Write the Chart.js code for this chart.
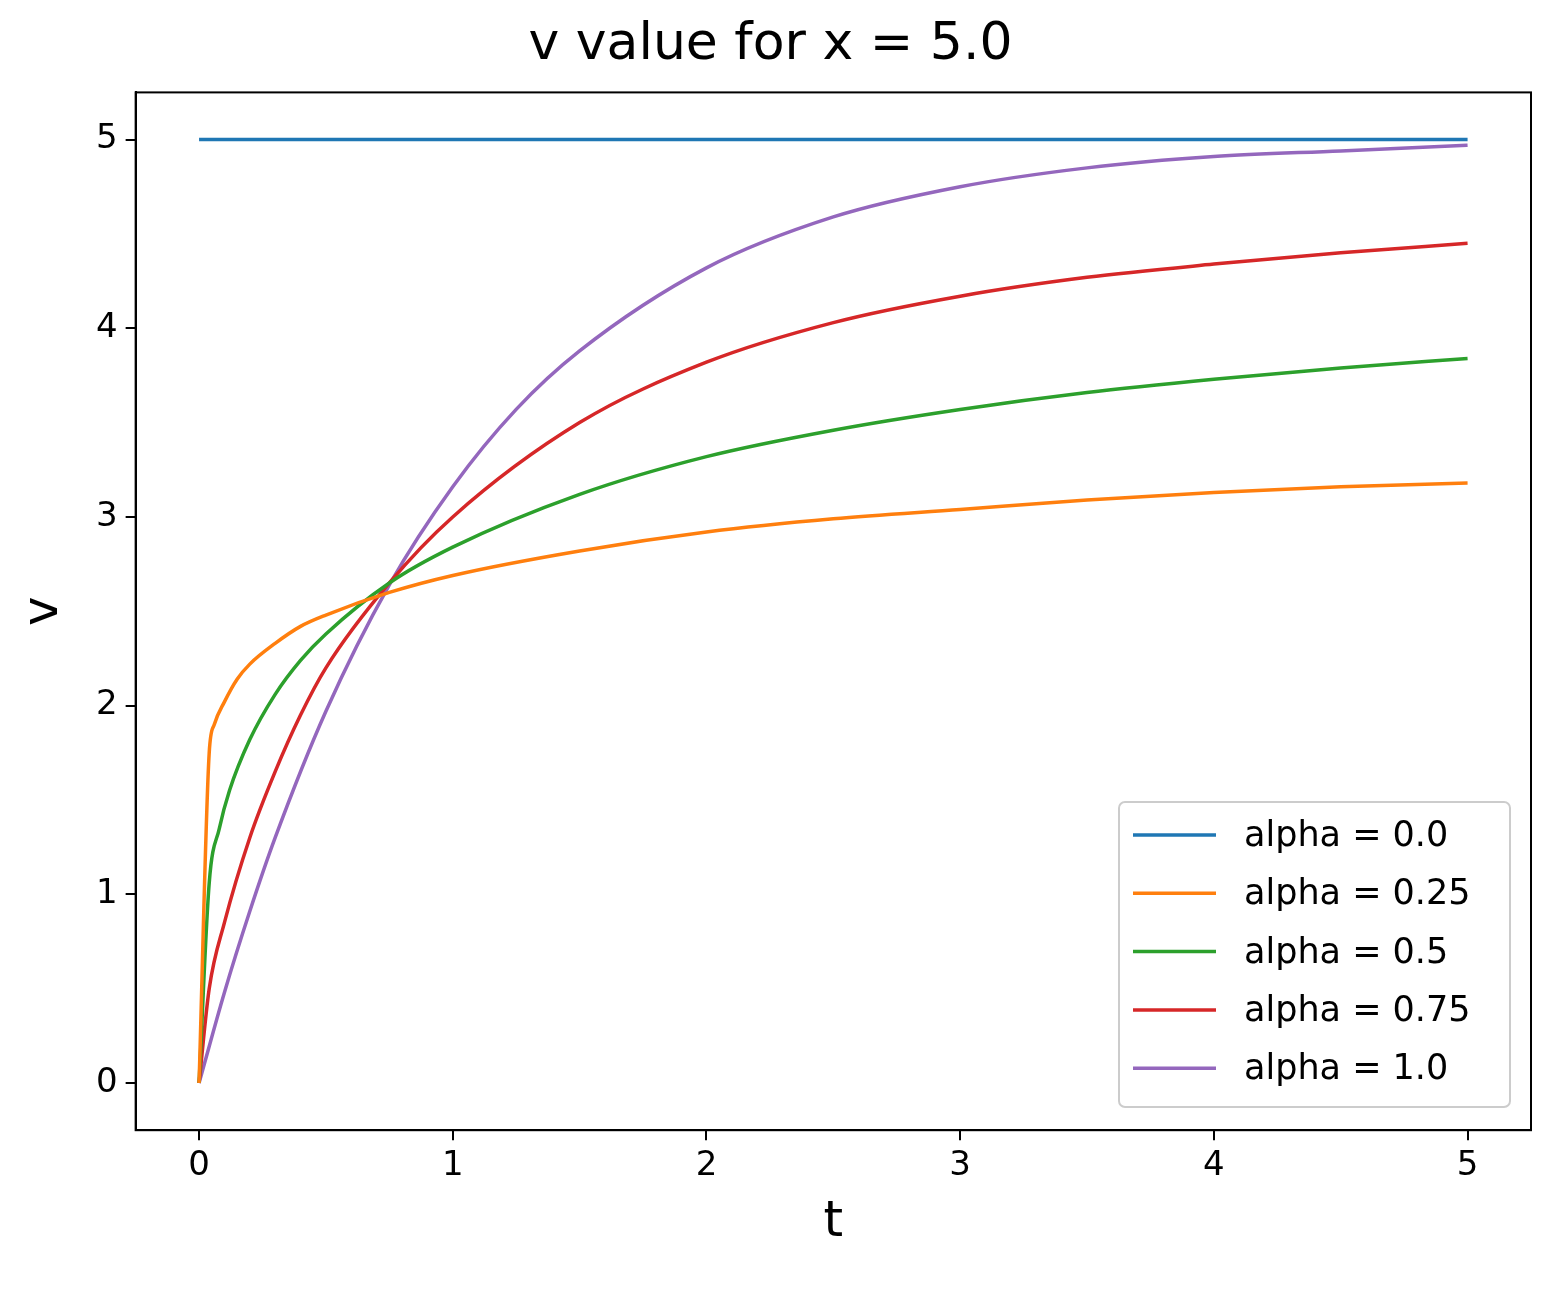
<!DOCTYPE html>
<html><head><meta charset="utf-8">
<script src="https://cdn.jsdelivr.net/npm/chart.js@4"></script>
<style>html,body{margin:0;padding:0;background:#fff}#wrap{width:1554px;height:1289px}</style>
</head><body><div id="wrap"><canvas id="c" width="1554" height="1289"></canvas></div>
<script>
const labels = ['alpha = 0.0','alpha = 0.25','alpha = 0.5','alpha = 0.75','alpha = 1.0'];
const colors = ['#1f77b4','#ff7f0e','#2ca02c','#d62728','#9467bd'];
const tBlue = [0,5];
const vBlue = [5,5];
const tOrange = [0,0.04,0.06,0.1,0.15,0.2,0.3,0.4,0.5,0.75,1,1.5,2,2.5,3,3.5,4,4.5,5];
const vOrange = [0,1.75,1.9,2.02,2.14,2.22,2.33,2.42,2.48,2.6,2.69,2.82,2.92,2.99,3.04,3.09,3.13,3.16,3.18];
const tGreen = [0,0.04,0.08,0.12,0.2,0.3,0.4,0.5,0.75,1,1.5,2,2.5,3,3.5,4,4.5,5];
const vGreen = [0,1.06,1.35,1.55,1.82,2.06,2.24,2.38,2.65,2.84,3.12,3.32,3.46,3.57,3.66,3.73,3.79,3.84];
const tRed = [0,0.04,0.1,0.2,0.3,0.4,0.5,0.75,1,1.5,2,2.5,3,3.5,4,4.5,5];
const vRed = [0,0.5,0.85,1.3,1.65,1.95,2.2,2.65,3.0,3.5,3.82,4.03,4.17,4.27,4.34,4.4,4.45];
const tPurple = [0,0.1,0.2,0.3,0.5,0.75,1,1.25,1.5,2,2.5,3,3.5,4,4.5,5];
const vPurple = [0,0.48,0.91,1.3,1.97,2.64,3.16,3.57,3.88,4.32,4.59,4.75,4.85,4.91,4.94,4.97];
const series = [[tBlue,vBlue],[tOrange,vOrange],[tGreen,vGreen],[tRed,vRed],[tPurple,vPurple]];
const xTicks = [0,1,2,3,4,5];
const yTicks = [0,1,2,3,4,5];

const F = 'DejaVu Sans';
const boxPlugin = {
  id:'box',
  afterDraw(ch){
    const {ctx, chartArea:a} = ch;
    ctx.save();
    ctx.strokeStyle='#000'; ctx.lineWidth=2;
    ctx.strokeRect(a.left,a.top,a.right-a.left,a.bottom-a.top);
    const x0=1119, y0=802, w=391, h=305;
    ctx.fillStyle='rgba(255,255,255,0.85)';
    ctx.strokeStyle='#ccc'; ctx.lineWidth=2;
    ctx.beginPath(); ctx.roundRect(x0,y0,w,h,6); ctx.fill(); ctx.stroke();
    ctx.font = '35px "'+F+'"'; ctx.textBaseline='middle'; ctx.fillStyle='#000';
    labels.forEach((l,i)=>{
      const y = 835 + i*58.3;
      ctx.strokeStyle=colors[i]; ctx.lineWidth=3.5;
      ctx.beginPath(); ctx.moveTo(1133,y); ctx.lineTo(1216,y); ctx.stroke();
      ctx.fillStyle='#000'; ctx.fillText(l,1244,y+2);
    });
    ctx.restore();
  }
};

new Chart(document.getElementById('c'),{
  type:'line',
  data:{datasets: series.map((s,i)=>({
    label: labels[i],
    data: s[0].map((t,j)=>({x:t,y:s[1][j]})),
    borderColor: colors[i], borderWidth:3.5, pointRadius:0, cubicInterpolationMode:'monotone', fill:false
  }))},
  options:{
    responsive:false, animation:false, devicePixelRatio:1,
    layout:{padding:{left:10,right:23,top:0,bottom:32}},
    plugins:{
      legend:{display:false}, tooltip:{enabled:false},
      title:{display:true,text:'v value for x = 5.0',color:'#000',font:{family:F,size:52,weight:'normal'},padding:{top:14,bottom:16}}
    },
    scales:{
      x:{type:'linear',min:-0.25,max:5.25,
        afterBuildTicks(ax){ax.ticks = xTicks.map(v=>({value:v}));},
        ticks:{color:'#000',font:{family:F,size:34},padding:6},
        grid:{drawOnChartArea:false,drawTicks:true,tickLength:10,color:'#000',lineWidth:2},
        border:{display:true,color:'#000',width:2},
        title:{display:true,text:'t',color:'#000',font:{family:F,size:50},padding:{top:0}}
      },
      y:{type:'linear',min:-0.25,max:5.25,
        afterBuildTicks(ax){ax.ticks = yTicks.map(v=>({value:v}));},
        ticks:{color:'#000',font:{family:F,size:34},padding:8},
        grid:{drawOnChartArea:false,drawTicks:true,tickLength:10,color:'#000',lineWidth:2},
        border:{display:true,color:'#000',width:2},
        title:{display:true,text:'v',color:'#000',font:{family:F,size:50},padding:{bottom:14}}
      }
    }
  },
  plugins:[boxPlugin]
});
</script></body></html>
